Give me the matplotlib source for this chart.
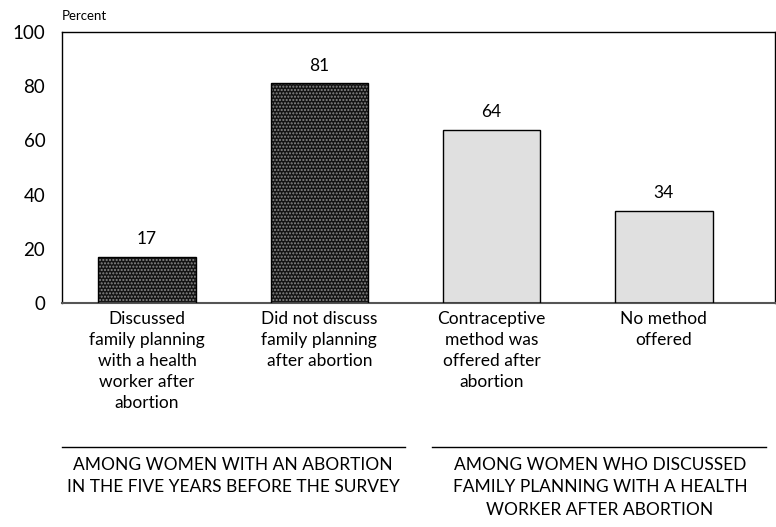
import numpy as np
import matplotlib.pyplot as plt
from matplotlib.lines import Line2D

plt.rcParams['font.family'] = ['Lato', 'DejaVu Sans']
plt.rcParams['hatch.linewidth'] = 1.0

categories = ['Discussed\nfamily planning\nwith a health\nworker after\nabortion',
              'Did not discuss\nfamily planning\nafter abortion',
              'Contraceptive\nmethod was\noffered after\nabortion',
              'No method\noffered']
values = [17, 81, 64, 34]
group_labels = ['AMONG WOMEN WITH AN ABORTION\nIN THE FIVE YEARS BEFORE THE SURVEY',
                'AMONG WOMEN WHO DISCUSSED\nFAMILY PLANNING WITH A HEALTH\nWORKER AFTER ABORTION']

W, H = 776, 527
fig = plt.figure(figsize=(W / 100, H / 100), dpi=100)
ax = fig.add_axes([62 / W, 1 - 303 / H, (775 - 62) / W, (303 - 32) / H])

x = np.arange(len(values))
styles = [dict(facecolor='#141414', hatch='.....', edgecolor='#8a8a8a'),
          dict(facecolor='#141414', hatch='.....', edgecolor='#8a8a8a'),
          dict(facecolor='#e0e0e0'),
          dict(facecolor='#e0e0e0')]
for xi, v, st in zip(x, values, styles):
    ax.bar(xi, v, width=0.565, linewidth=0, zorder=2, **st)
    ax.bar(xi, v, width=0.565, fill=False, edgecolor='black', linewidth=1.0, zorder=3)
    ax.text(xi, v + 3.5, str(v), ha='center', va='bottom', fontsize=12.5)

ax.set_xlim(-0.494, 3.645)
ax.set_ylim(0, 100)
ax.set_yticks(np.arange(0, 101, 20))
ax.tick_params(axis='y', length=0, pad=12, labelsize=13.5)
ax.set_xticks(x)
ax.set_xticklabels(categories, fontsize=12.5, linespacing=1.38, va='top')
ax.tick_params(axis='x', length=0, pad=6)
for s in ax.spines.values():
    s.set_linewidth(1.0)
ax.spines['bottom'].set_color('#555555')
ax.spines['bottom'].set_linewidth(1.5)

fig.text(62 / W, 1 - 16 / H, 'Percent', fontsize=9.5, ha='left', va='center')

# group separators and labels
fig.add_artist(Line2D([62 / W, 405 / W], [1 - 447 / H] * 2, color='black', lw=1))
fig.add_artist(Line2D([432 / W, 766 / W], [1 - 447 / H] * 2, color='black', lw=1))
fig.text(233 / W, 1 - 457 / H, group_labels[0], fontsize=12.5, ha='center', va='top', linespacing=1.5)
fig.text(600 / W, 1 - 457 / H, group_labels[1], fontsize=12.5, ha='center', va='top', linespacing=1.5)

fig.savefig('out.png', dpi=100)
